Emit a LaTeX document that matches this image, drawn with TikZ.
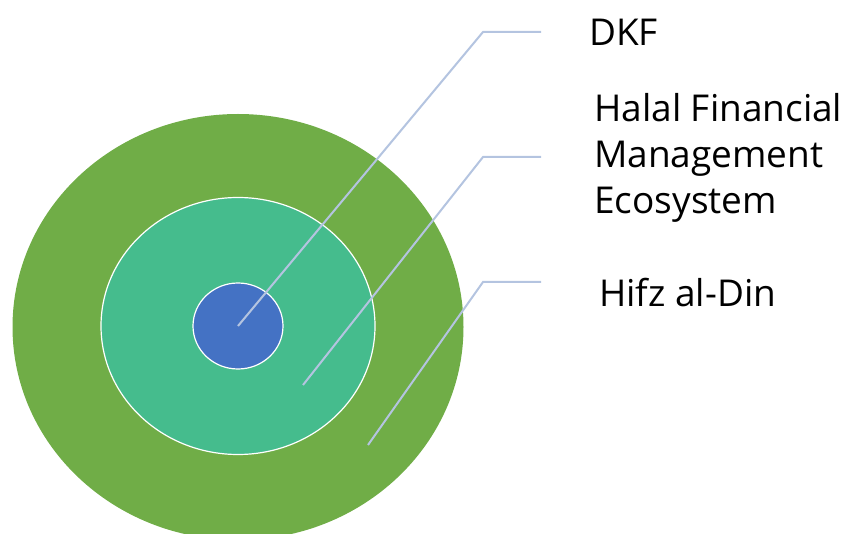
\documentclass[tikz,border=0pt]{standalone}
\usepackage{fontspec}
\setmainfont{Open Sans}
\usetikzlibrary{shapes.geometric}

\definecolor{ringouter}{HTML}{70AD47}
\definecolor{ringmid}{HTML}{45BC8D}
\definecolor{ringinner}{HTML}{4472C4}
\definecolor{leadcol}{HTML}{B4C4E0}

\begin{document}
\begin{tikzpicture}[
    x=1pt, y=-1pt,
    ring/.style={ellipse, inner sep=0pt},
    label/.style={anchor=west, inner sep=0pt, align=left,
        font=\fontsize{37}{46}\selectfont},
    leader/.style={draw=leadcol, line width=2pt}
]
\useasboundingbox (0,0) rectangle (857,534);

% Rings
\node[ring, fill=ringouter, minimum width=451pt, minimum height=426pt] (outer) at (238,327) {};
\node[ring, fill=ringmid, draw=white, line width=1.2pt, minimum width=274pt, minimum height=257pt] (mid) at (238,326) {};
\node[ring, fill=ringinner, draw=white, line width=1.2pt, minimum width=90pt, minimum height=86pt] (inner) at (238,326) {};

% Labels
\node[label] (dkf) at (589,32) {DKF};
\node[label] (halal) at (594,158) {Halal Financial\\Management\\Ecosystem};
\node[label] (hifz) at (599,293) {Hifz al-Din};

% Leader points
\coordinate (p1) at (238,326);
\coordinate (p2) at (303,385);
\coordinate (p3) at (368,445);
\coordinate (b1) at (483,32);
\coordinate (b2) at (483,157);
\coordinate (b3) at (483,282);
\coordinate (e1) at (541,32);
\coordinate (e2) at (541,157);
\coordinate (e3) at (541,282);

% Leaders
\draw[leader] (p1) -- (b1) -- (e1);
\draw[leader] (p2) -- (b2) -- (e2);
\draw[leader] (p3) -- (b3) -- (e3);

\end{tikzpicture}
\end{document}
